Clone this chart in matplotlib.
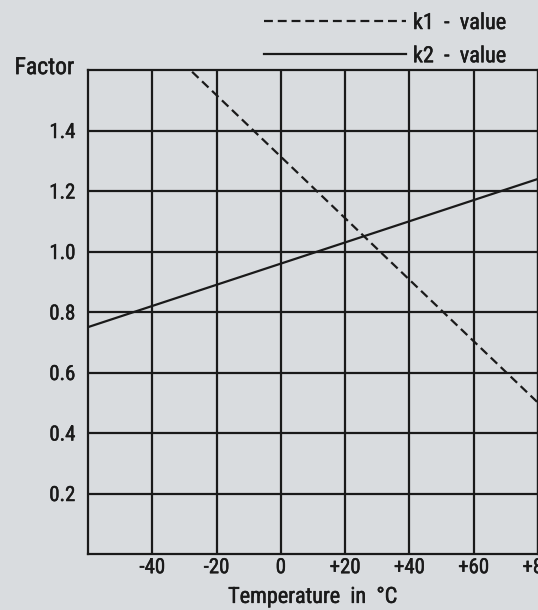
import matplotlib.pyplot as plt
import matplotlib.patheffects as pe
from matplotlib import font_manager

# data
temp_k1 = [-40, 80]
k1_value = [1.72, 0.50]
temp_k2 = [-60, 80]
k2_value = [0.75, 1.24]

x_ticks = [-40, -20, 0, 20, 40, 60, 80]
x_labels = ['-40', '-20', '0', '+20', '+40', '+60', '+80']
y_ticks = [0.2, 0.4, 0.6, 0.8, 1.0, 1.2, 1.4]
y_labels = ['0.2', '0.4', '0.6', '0.8', '1.0', '1.2', '1.4']

# pick a narrow face if one is around
fonts = font_manager.fontManager.ttflist
names = {f.name for f in fonts}
fam = 'DejaVu Sans'
for cand in ['Liberation Sans Narrow', 'Roboto Condensed', 'Open Sans Condensed',
             'Noto Sans Condensed']:
    if cand in names:
        fam = cand
        break
plt.rcParams['font.family'] = [fam, 'DejaVu Sans']

bg = '#d9dcdf'
ink = '#1a1a1a'
fs = 15
thick = [pe.withStroke(linewidth=0.35, foreground=ink)]

fig = plt.figure(figsize=(5.38, 6.10), dpi=100, facecolor=bg)
W, H = 538, 610
ax = fig.add_axes([88 / W, (H - 554) / H, (538 - 88) / W, (554 - 70) / H])
ax.set_facecolor(bg)

ax.set_xlim(-60, 80)
ax.set_ylim(0, 1.6)

l1, = ax.plot(temp_k1, k1_value, color=ink, lw=1.6, linestyle=(0, (4, 2.2)),
              label='k1  -  value')
l2, = ax.plot(temp_k2, k2_value, color=ink, lw=1.6, label='k2  -  value')

ax.set_xticks(x_ticks)
ax.set_xticklabels(x_labels)
ax.set_yticks(y_ticks)
ax.set_yticklabels(y_labels)
ax.tick_params(length=0, labelsize=fs, colors=ink)
ax.tick_params(axis='y', pad=9)
ax.tick_params(axis='x', pad=3)
ax.grid(True, color=ink, lw=1.6)
ax.set_axisbelow(True)
for sp in ax.spines.values():
    sp.set_color(ink)
    sp.set_linewidth(1.6)

xl = ax.set_xlabel('Temperature  in  °C', fontsize=fs + 1, color=ink, labelpad=7)
fac = ax.text(-0.031, 1.005, 'Factor', transform=ax.transAxes, ha='right', va='center',
              fontsize=fs + 2, color=ink)

leg = fig.legend(handles=[l1, l2], loc='upper left', bbox_to_anchor=(264 / W, 1 - 13 / H),
                 frameon=False, fontsize=fs + 1, handlelength=6.4, handletextpad=0.3,
                 borderpad=0, borderaxespad=0, labelspacing=0.55, labelcolor=ink)

for t in ax.get_xticklabels() + ax.get_yticklabels() + leg.get_texts() + [xl, fac]:
    t.set_path_effects(thick)

fig.savefig('out.png', dpi=100, facecolor=bg)
